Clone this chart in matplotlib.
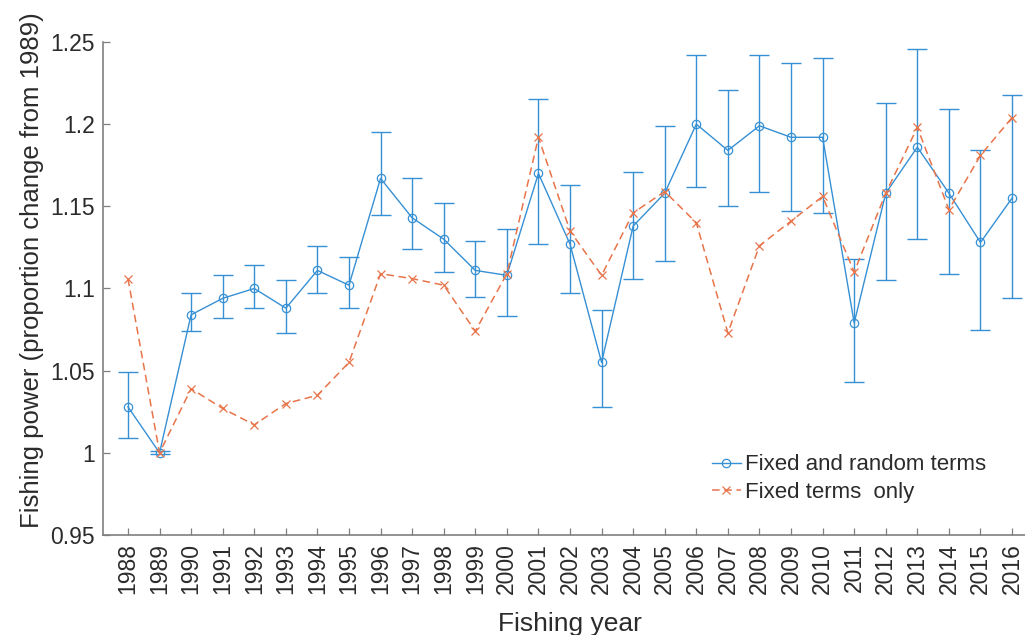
import matplotlib
matplotlib.use('Agg')
import matplotlib.pyplot as plt
import numpy as np

plt.rcParams['font.family'] = ['Liberation Sans', 'DejaVu Sans']

years = list(range(1988, 2017))

# fixed and random terms: estimate, upper and lower bounds
mixed = [1.028, 1.000, 1.084, 1.094, 1.100, 1.088, 1.111, 1.102, 1.167, 1.143,
         1.130, 1.111, 1.108, 1.170, 1.127, 1.055, 1.138, 1.158, 1.200, 1.184,
         1.199, 1.192, 1.192, 1.079, 1.158, 1.186, 1.158, 1.128, 1.155]
mixed_hi = [1.049, 1.001, 1.097, 1.108, 1.114, 1.105, 1.126, 1.119, 1.195, 1.167,
            1.152, 1.129, 1.136, 1.215, 1.163, 1.087, 1.171, 1.199, 1.242, 1.221,
            1.242, 1.237, 1.240, 1.118, 1.213, 1.246, 1.209, 1.184, 1.218]
mixed_lo = [1.009, 0.999, 1.074, 1.082, 1.088, 1.073, 1.097, 1.088, 1.145, 1.124,
            1.110, 1.095, 1.083, 1.127, 1.097, 1.028, 1.106, 1.117, 1.162, 1.150,
            1.159, 1.147, 1.146, 1.043, 1.105, 1.130, 1.109, 1.075, 1.094]

# fixed terms only
fixed = [1.106, 1.000, 1.039, 1.027, 1.017, 1.030, 1.035, 1.055, 1.109, 1.106,
         1.102, 1.074, 1.109, 1.192, 1.135, 1.108, 1.146, 1.159, 1.140, 1.073,
         1.126, 1.141, 1.156, 1.110, 1.158, 1.198, 1.148, 1.181, 1.204]

blue = '#3690D4'
orange = '#E8744A'
txt = '#2b2b2b'

mixed = np.array(mixed)
err = [mixed - np.array(mixed_lo), np.array(mixed_hi) - mixed]

fig = plt.figure(figsize=(10.25, 6.35), dpi=100)
ax = fig.add_axes([0.1005, 0.1575, 0.8995, 0.7764])

ax.errorbar(years, mixed, yerr=err, fmt='none', ecolor=blue, elinewidth=1.0,
            capsize=7, capthick=1.0)
l1, = ax.plot(years, mixed, color=blue, lw=1.0, marker='o', markersize=6,
              markerfacecolor='none', markeredgewidth=0.9)
l2, = ax.plot(years, fixed, color=orange, lw=1.1, ls=(0, (5, 3)), marker='x',
              markersize=6, markeredgewidth=0.9)

ax.set_xlim(1987.21, 2016.41)
ax.set_ylim(0.95, 1.25)
ax.set_xticks(years)
ax.set_xticklabels([str(y) for y in years], rotation=90)
ax.set_yticks([0.95, 1.0, 1.05, 1.1, 1.15, 1.2, 1.25])
ax.set_yticklabels(['0.95', '1', '1.05', '1.1', '1.15', '1.2', '1.25'])

for s in ['top', 'right']:
    ax.spines[s].set_visible(False)
for s in ['left', 'bottom']:
    ax.spines[s].set_color('#7f7f7f')
    ax.spines[s].set_linewidth(1.2)
ax.tick_params(direction='in', length=5, width=0.9, color='#7f7f7f',
               labelsize=16.5, labelcolor=txt, pad=6)

ax.set_xlabel('Fishing year', fontsize=19, color=txt)
ax.set_ylabel('Fishing power (proportion change from 1989)', fontsize=18.5,
              color=txt)
ax.xaxis.set_label_coords(0.5065, -0.157)
ax.yaxis.set_label_coords(-0.064, 0.5375)

fig.legend([l1, l2], ['Fixed and random terms', 'Fixed terms  only'],
           loc='upper left', bbox_to_anchor=(0.675, 0.316), frameon=False,
           fontsize=16, handlelength=1.3, handletextpad=0.2, labelspacing=0.3,
           labelcolor=txt)

fig.savefig('out.png', dpi=100)
